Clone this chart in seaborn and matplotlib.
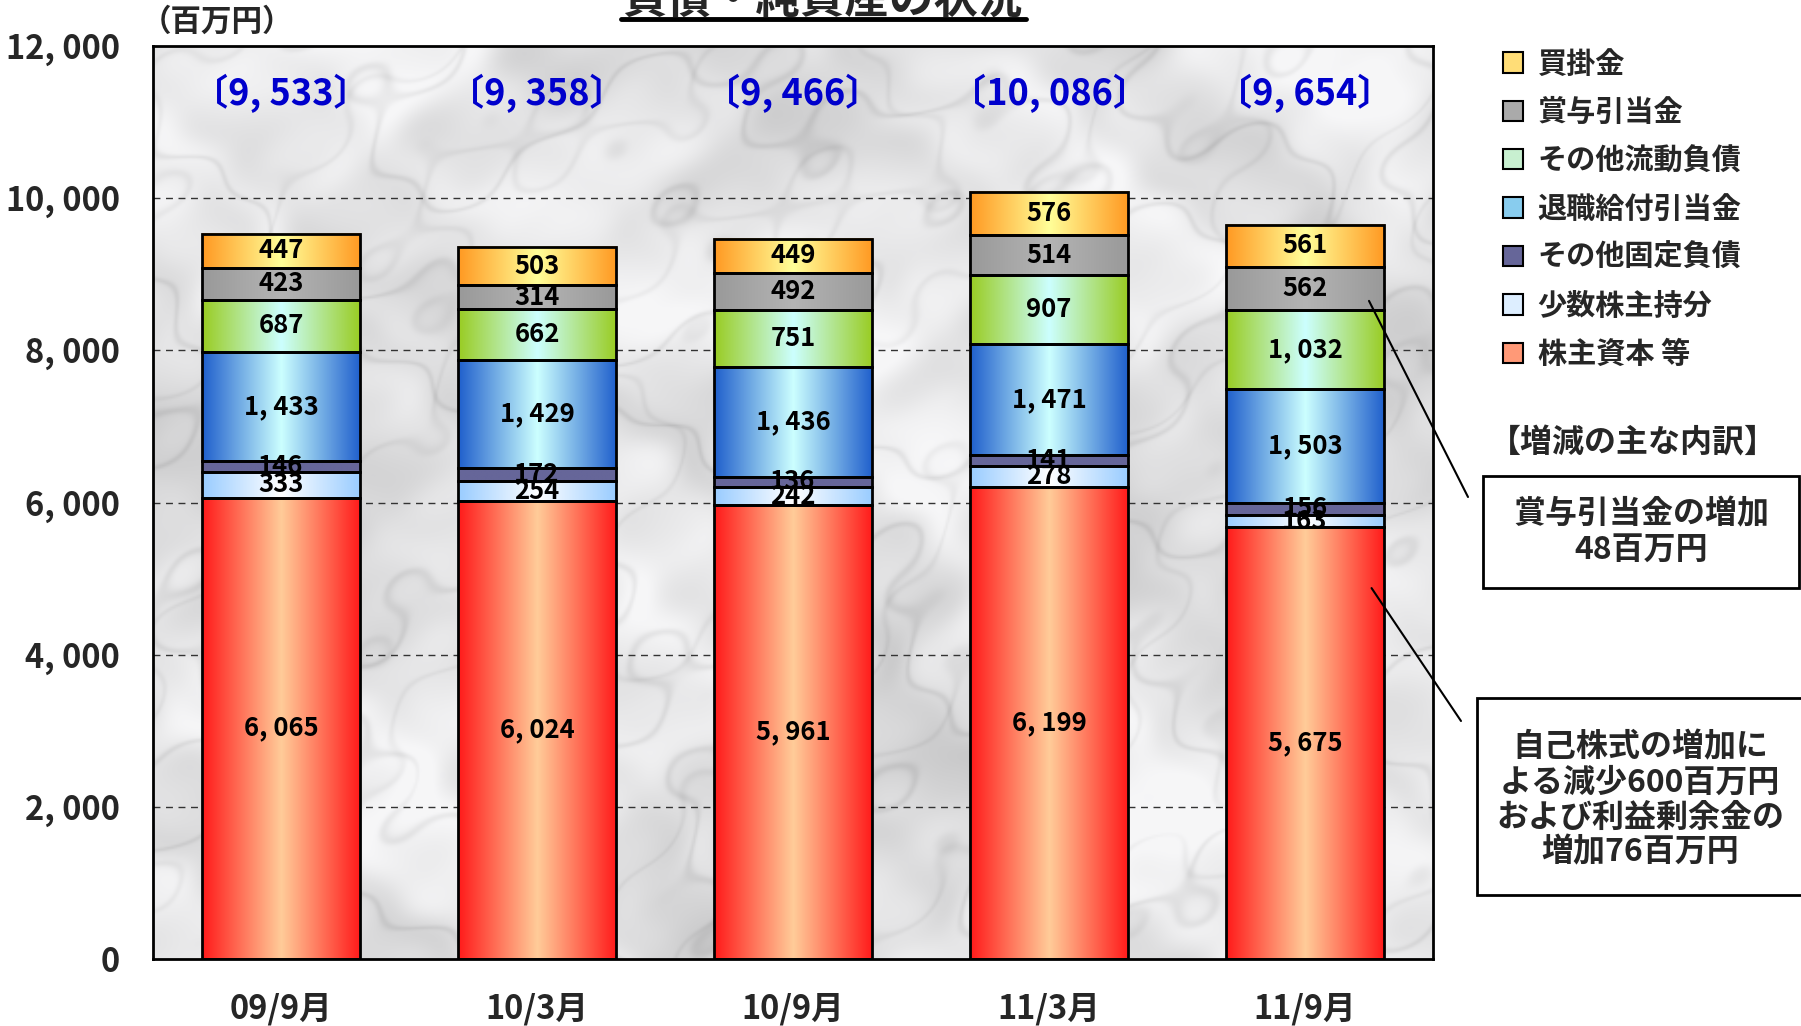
import numpy as np
import pandas as pd
import matplotlib
matplotlib.use("Agg")
import matplotlib.pyplot as plt
import seaborn as sns
from matplotlib import font_manager
from matplotlib.colors import to_rgb
from matplotlib.patches import Patch, Rectangle
from matplotlib.lines import Line2D

# ---- data (百万円) ----
periods = ["09/9月", "10/3月", "10/9月", "11/3月", "11/9月"]
series_names = ["株主資本 等", "少数株主持分", "その他固定負債", "退職給付引当金",
                "その他流動負債", "賞与引当金", "買掛金"]
equity = [6065, 6024, 5961, 6199, 5675]
minority = [333, 254, 242, 278, 163]
other_fixed = [146, 172, 136, 141, 156]
retirement = [1433, 1429, 1436, 1471, 1503]
other_current = [687, 662, 751, 907, 1032]
bonus = [423, 314, 492, 514, 562]
payables = [447, 503, 449, 576, 561]
totals = [9533, 9358, 9466, 10086, 9654]
yticks = [0, 2000, 4000, 6000, 8000, 10000, 12000]

series_values = [equity, minority, other_fixed, retirement, other_current, bonus, payables]

# gradient colours per series: (edge colour, centre colour)
gradients = {
    "株主資本 等": ("#ff1a1a", "#ffcc99"),
    "少数株主持分": ("#99ccff", "#ffffff"),
    "その他固定負債": ("#666699", "#666699"),
    "退職給付引当金": ("#1f5fcc", "#ccffff"),
    "その他流動負債": ("#99cc22", "#ccffff"),
    "賞与引当金": ("#999999", "#b4b4b4"),
    "買掛金": ("#ff9922", "#ffff99"),
}
legend_colors = {
    "株主資本 等": "#ff9977",
    "少数株主持分": "#ddeeff",
    "その他固定負債": "#666699",
    "退職給付引当金": "#88ccee",
    "その他流動負債": "#c8f0d0",
    "賞与引当金": "#aaaaaa",
    "買掛金": "#ffdd77",
}

df = pd.DataFrame({"period": periods})
for name, vals in zip(series_names, series_values):
    df[name] = vals

# ---- fonts ----
sns.set_style("white")
plt.rcParams["font.family"] = ["Noto Sans CJK JP", "DejaVu Sans"]
_installed = {f.name for f in font_manager.fontManager.ttflist}
if "Liberation Sans Narrow" in _installed:
    NUM_FAMILY = ["Liberation Sans Narrow", "Noto Sans CJK JP"]
    nscale = 1.0
else:
    NUM_FAMILY = ["Noto Sans CJK JP", "DejaVu Sans"]
    nscale = 0.84


def fmt(v):
    return f"{v:,}".replace(",", ", ")


W, H = 1801, 1026
fig = plt.figure(figsize=(W / 100, H / 100), dpi=100)
ax = fig.add_axes([153 / W, 1 - 959 / H, (1433 - 153) / W, (959 - 46) / H])

# marble-like backdrop: pale stone with grey clouding and faint diagonal veins
hh, ww = 456, 640
yy, xx = np.mgrid[0:1:hh * 1j, 0:1:ww * 1j]
warp = (np.sin(6 * xx + 4 * yy) + 0.7 * np.sin(11 * yy - 7 * xx + 1.3)
        + 0.5 * np.sin(23 * xx + 17 * yy + 0.7) + 0.35 * np.sin(43 * xx - 31 * yy + 2.1)
        + 0.25 * np.sin(71 * xx + 59 * yy + 0.4))
vein1 = np.exp(-np.sin(14 * (xx * 0.7 - yy * 0.9) + 1.6 * warp) ** 2 / 0.02)
vein2 = np.exp(-np.sin(23 * (xx * 0.9 + yy * 0.5) + 1.2 * warp + 0.8) ** 2 / 0.01)
cloud = (np.sin(9 * xx + 3 + 0.8 * warp) * np.sin(7 * yy + 2 - 0.5 * warp)
         + 0.6 * np.sin(19 * xx - 13 * yy + warp)
         + 0.4 * np.sin(37 * xx + 29 * yy + 1.5 * warp)
         + 0.3 * np.sin(61 * xx - 47 * yy + 2 * warp))
tone = 0.90 - 0.05 * cloud - 0.06 * vein1 - 0.04 * vein2
tone = np.clip(tone, 0.64, 0.97)
marble = np.dstack([tone * 0.995, tone * 0.995, tone])
ax.imshow(marble, extent=(-0.5, 4.5, 0, 12000), aspect="auto", zorder=0,
          interpolation="bilinear")

# stacked bars
bottoms = np.zeros(len(periods))
for name, vals in zip(series_names, series_values):
    sns.barplot(data=df, x="period", y=name, order=periods, bottom=bottoms,
                width=0.62, color=gradients[name][0], errorbar=None, ax=ax)
    container = ax.containers[-1]
    edge, centre = (np.array(to_rgb(c)) for c in gradients[name])
    u = np.linspace(0, 1, 256)
    t = 1 - np.abs(2 * u - 1)
    grad = edge[None, :] + (centre - edge)[None, :] * t[:, None]
    grad = grad[None, :, :]
    for i, bar in enumerate(container):
        x0, y0 = bar.get_x(), bar.get_y()
        bw, bh = bar.get_width(), bar.get_height()
        bar.set_facecolor("none")
        bar.set_edgecolor("black")
        bar.set_linewidth(2.0)
        bar.set_zorder(3)
        ax.imshow(grad, extent=(x0, x0 + bw, y0, y0 + bh), aspect="auto",
                  zorder=2, interpolation="bilinear")
        ax.text(x0 + bw / 2, y0 + bh / 2, fmt(vals[i]), ha="center", va="center",
                fontsize=22 * nscale, fontweight="bold", family=NUM_FAMILY,
                color="black", zorder=5)
    bottoms = bottoms + np.array(vals)

# totals in brackets
for i, tot in enumerate(totals):
    ax.text(i, 11380, "〔" + fmt(tot) + "〕", ha="center", va="center",
            fontsize=31 * nscale, fontweight="bold", family=NUM_FAMILY,
            color="#0000cc", zorder=5)

# axes styling
ax.set_xlim(-0.5, 4.5)
ax.set_ylim(0, 12000)
ax.set_yticks(yticks)
ax.set_yticklabels([fmt(v) for v in yticks], family=NUM_FAMILY,
                   fontsize=28 * nscale, fontweight="bold")
ax.set_xticks(range(len(periods)))
ax.set_xticklabels(periods, family=NUM_FAMILY, fontsize=28 * nscale, fontweight="bold")
ax.set_xticks([0.5, 1.5, 2.5, 3.5], minor=True)
ax.tick_params(axis="y", length=0, pad=24)
ax.tick_params(axis="x", which="major", length=0, pad=24)
ax.tick_params(axis="x", which="minor", direction="in", length=9, width=1.5, color="black")
ax.set_xlabel("")
ax.set_ylabel("")
for y in yticks[1:-1]:
    ax.axhline(y, color="#333333", lw=1.0, ls=(0, (5, 4)), zorder=1)
for sp in ax.spines.values():
    sp.set_visible(True)
    sp.set_color("black")
    sp.set_linewidth(2.0)
    sp.set_zorder(6)

# unit label
fig.text(141 / W, 1 - 22 / H, "（百万円）", ha="left", va="center",
         fontsize=22, fontweight="bold")

# title (underlined)
fig.text(823 / W, 1 - 14 / H, "負債・純資産の状況", ha="center", va="baseline",
         fontsize=32, fontweight="bold")
fig.add_artist(Line2D([621 / W, 1026 / W], [1 - 19 / H, 1 - 19 / H],
                      transform=fig.transFigure, color="black", lw=3.5))

# legend (top entry = top of stack)
handles = [Patch(facecolor=legend_colors[n], edgecolor="black", linewidth=1.5)
           for n in series_names[::-1]]
leg = fig.legend(handles, series_names[::-1], loc="upper left",
                 bbox_to_anchor=(1491 / W, 1 - 37 / H), frameon=False,
                 prop={"family": ["Noto Sans CJK JP"], "weight": "bold", "size": 21},
                 handlelength=0.7, handleheight=0.7, handletextpad=0.5,
                 labelspacing=0.63, borderaxespad=0)

# breakdown notes
fig.text(1633 / W, 1 - 444 / H, "【増減の主な内訳】", ha="center", va="center",
         fontsize=23, fontweight="bold")
fig.add_artist(Rectangle((1483 / W, 1 - 588 / H), (1799 - 1483) / W, (588 - 476) / H,
                         transform=fig.transFigure, facecolor="white",
                         edgecolor="black", lw=2))
fig.text(1641 / W, 1 - 532 / H, "賞与引当金の増加\n48百万円", ha="center", va="center",
         fontsize=23, fontweight="bold", linespacing=1.12)
fig.add_artist(Rectangle((1477 / W, 1 - 895 / H), (1820 - 1477) / W, (895 - 698) / H,
                         transform=fig.transFigure, facecolor="white",
                         edgecolor="black", lw=2))
fig.text(1640 / W, 1 - 800 / H,
         "自己株式の増加に\nよる減少600百万円\nおよび利益剰余金の\n増加76百万円",
         ha="center", va="center", fontsize=23, fontweight="bold", linespacing=1.12)

# leader lines from the 11/9 bar to the notes
ax.annotate("", xy=(4.25, 8650), xycoords="data",
            xytext=(1468 / W, 1 - 497 / H), textcoords="figure fraction",
            arrowprops=dict(arrowstyle="-", color="black", lw=1.5,
                            shrinkA=0, shrinkB=0), annotation_clip=False, zorder=7)
ax.annotate("", xy=(4.26, 4875), xycoords="data",
            xytext=(1461 / W, 1 - 721 / H), textcoords="figure fraction",
            arrowprops=dict(arrowstyle="-", color="black", lw=1.5,
                            shrinkA=0, shrinkB=0), annotation_clip=False, zorder=7)

fig.savefig("out.png", dpi=100, facecolor="white")
